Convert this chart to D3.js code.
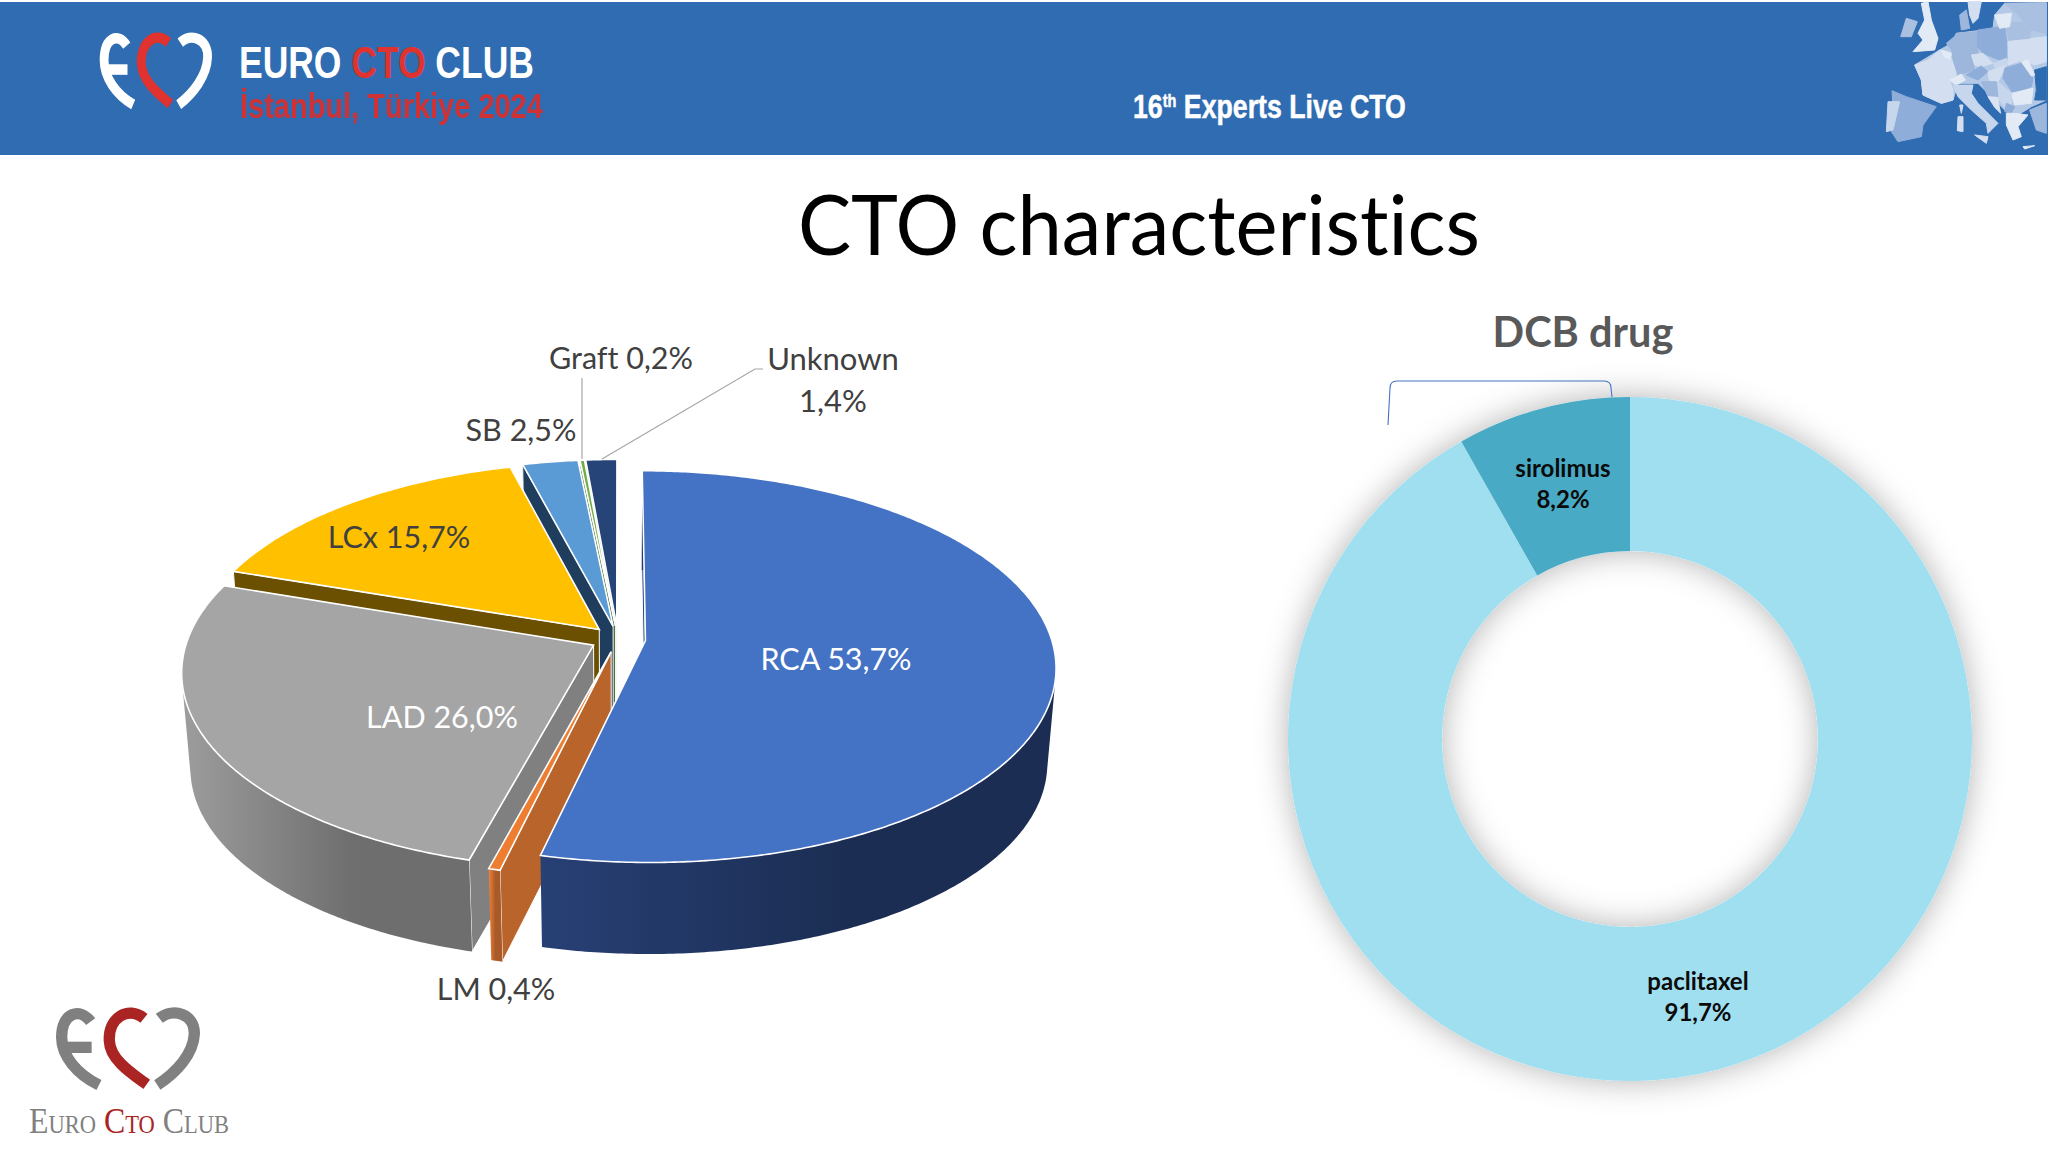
<!DOCTYPE html>
<html>
<head>
<meta charset="utf-8">
<script src="https://cdn.jsdelivr.net/npm/d3@7"></script>
<style>
    html, body { margin: 0; padding: 0; background: #fff; }
    svg { display: block; }
    text { font-family: Lato, sans-serif; font-variant-ligatures: none; }
</style>
</head>
<body>
<div id="chart"></div>
<script>
const vesselNames = ["RCA", "LM", "LAD", "LCx", "SB", "Graft", "Unknown"];
const vesselValues = [53.7, 0.4, 26.0, 15.7, 2.5, 0.2, 1.4];
const drugNames = ["paclitaxel", "sirolimus"];
const drugValues = [91.7, 8.2];

const topColors = ["#4472c4", "#ed7d31", "#a5a5a5", "#ffc000", "#5b9bd5", "#70ad47", "#264478"];
const sideColors = ["#2a4a86", "#b8642a", "#808080", "#6a5000", "#1f3d5c", "#43682b", "#1c335a"];
const rimColors = ["#1b2d52", "#a85a28", "#6e6e6e", "#5c4500", "#1f3d5c", "#43682b", "#1c335a"];

const width = 2048, height = 1152;

const svg = d3.select("#chart").append("svg")
    .attr("width", width)
    .attr("height", height);

const defs = svg.append("defs");

// soft shadow under the donut
defs.append("filter").attr("id", "soft")
    .attr("x", "-20%").attr("y", "-20%").attr("width", "140%").attr("height", "140%")
    .append("feDropShadow")
    .attr("dx", 0).attr("dy", 0).attr("stdDeviation", 16)
    .attr("flood-color", "#000").attr("flood-opacity", 0.3);

defs.append("filter").attr("id", "blurry")
    .append("feGaussianBlur").attr("stdDeviation", 0.6);

// header band
svg.append("rect").attr("x", 0).attr("y", 2).attr("width", width).attr("height", 153).attr("fill", "#2f6cb1");

function drawLogo(g, sideColor, midColor, lineWidth) {
    const line = (d, color) => g.append("path").attr("d", d)
        .attr("fill", "none").attr("stroke", color).attr("stroke-width", lineWidth);
    line("M272,128 C240,85 185,100 185,175 C185,230 230,285 297,318", sideColor);
    line("M190,205 L275,205", sideColor);
    line("M432,118 C385,80 325,115 328,185 C330,240 390,280 440,316", midColor);
    line("M478,118 C520,85 585,105 583,165 C580,225 530,280 472,318", sideColor);
}

drawLogo(svg.append("g").attr("transform", "translate(56,6) scale(0.26,0.31)"), "#fff", "#e0322f", 34);
drawLogo(svg.append("g").attr("transform", "translate(0,979) scale(0.3333)"), "#808080", "#ab2424", 34);

// squeeze a text horizontally so it takes the wanted width
function squeeze(text, x, y, len) {
    const natural = text.node().getComputedTextLength();
    text.attr("transform", `translate(${x},${y}) scale(${len / natural},1)`);
    return text;
}

function headerText(size, color) {
    return svg.append("text")
        .attr("font-size", size).attr("fill", color)
        .attr("font-weight", "bold")
        .style("font-family", "'Liberation Sans', sans-serif");
}

const clubHead = headerText(45, "#fff");
clubHead.append("tspan").text("EURO ");
clubHead.append("tspan").attr("fill", "#e0322f").text("CTO");
clubHead.append("tspan").text(" CLUB");
squeeze(clubHead, 239, 78, 295);

squeeze(headerText(36, "#cf3134").text("İstanbul, Türkiye 2024").attr("filter", "url(#blurry)"), 240, 118, 303);

const liveText = headerText(33, "#fff").attr("stroke", "#fff").attr("stroke-width", 0.5);
liveText.append("tspan").text("16");
liveText.append("tspan").attr("font-size", 18).attr("dy", -11).text("th");
liveText.append("tspan").attr("dy", 11).text(" Experts Live CTO");
squeeze(liveText, 1133, 118, 273);

// Europe map in the corner, rough outlines traced in a 3x crop
const mapShapes = [
    ["#b4c9e6", "110,195 185,150 220,130 235,100 300,92 345,85 350,45 380,10 505,8 505,300 460,320 420,345 385,335 350,300 300,250 240,250 225,300 190,310 135,285 130,240"],
    ["#2f6cb1", "470,210 505,200 505,300 470,300 475,270"],
    ["#8fadd9", "42,272 85,290 175,320 135,375 130,410 60,425 40,395 45,330"],
    ["#c6d6ec", "30,305 65,305 45,390 25,395"],
    ["#a9c0e0", "85,55 118,65 100,110 68,110"],
    ["#e2eaf5", "130,10 150,5 160,60 180,115 170,150 105,155 135,120 120,100 140,60"],
    ["#d3dff0", "110,195 150,180 185,150 225,180 235,225 215,240 225,270 225,300 190,310 135,285 130,240"],
    ["#e2eaf5", "190,150 222,160 215,178 198,170"],
    ["#9db7dc", "205,130 235,105 225,155"],
    ["#9db7dc", "235,100 300,95 300,175 280,165 290,210 240,225 225,180 220,140"],
    ["#8fadd9", "300,90 380,78 392,175 365,180 315,160 298,140"],
    ["#9db7dc", "245,45 265,30 275,85 250,90"],
    ["#d3dff0", "270,5 310,5 300,55 285,70 275,45"],
    ["#d3dff0", "280,165 315,160 345,190 310,200 290,195"],
    ["#8fadd9", "265,225 310,198 330,215 300,240"],
    ["#e2eaf5", "215,240 250,222 262,240 235,255"],
    ["#c6d6ec", "225,255 285,255 280,280 300,310 360,370 330,400 325,370 280,330 240,290"],
    ["#d3dff0", "290,405 330,410 325,430"],
    ["#d3dff0", "240,350 255,350 255,395 238,392"],
    ["#d3dff0", "245,315 255,315 250,340"],
    ["#c6d6ec", "345,190 385,175 390,192 355,210"],
    ["#d3dff0", "330,215 385,195 360,245 335,248"],
    ["#8fadd9", "380,205 430,190 465,235 460,260 405,280 375,235"],
    ["#d3dff0", "390,125 460,115 505,110 505,185 470,195 435,180 390,195"],
    ["#a9c0e0", "385,70 460,65 455,115 392,120"],
    ["#a9c0e0", "380,10 505,10 505,100 460,90 420,45"],
    ["#e2eaf5", "350,45 400,40 395,80 365,85"],
    ["#e2eaf5", "430,185 450,180 470,225 460,228"],
    ["#e2eaf5", "400,280 465,265 460,310 410,315"],
    ["#c6d6ec", "360,245 400,280 400,320 380,320 355,290"],
    ["#9db7dc", "310,245 355,245 360,290 330,290"],
    ["#d9e3f2", "330,290 358,292 368,340 350,322"],
    ["#8fadd9", "385,310 410,320 400,340 380,335"],
    ["#e2eaf5", "385,340 410,340 450,345 420,380 430,410 405,420 385,375"],
    ["#9db7dc", "455,330 505,310 505,400 475,390"],
    ["#e2eaf5", "435,440 470,437 440,447"]
];

svg.append("g").attr("filter", "url(#blurry)").selectAll("polygon")
    .data(mapShapes)
    .join("polygon")
    .attr("fill", d => d[0])
    .attr("stroke", d => d[0])
    .attr("stroke-width", 1)
    .attr("stroke-linejoin", "round")
    .attr("points", d => d[1].split(" ").map(p => {
        const [u, v] = p.split(",").map(Number);
        return (1878 + u / 3) + "," + (v / 3);
    }).join(" "));

// bottom left club name
const clubText = svg.append("text")
    .attr("font-size", 36)
    .attr("fill", "#808080")
    .style("font-family", "'Liberation Serif', serif")
    .style("font-variant", "small-caps");
clubText.append("tspan").text("Euro ");
clubText.append("tspan").attr("fill", "#ab2424").text("Cto");
clubText.append("tspan").text(" Club");
squeeze(clubText, 29, 1133, 198);

squeeze(svg.append("text").attr("font-size", 84).attr("fill", "#000").text("CTO characteristics"), 798, 255, 682);

// 3D pie: each slice lives on a unit disc which gets a perspective projection
const pieX = 618, pieY = 639, radiusX = 406, radiusY = 192;
const tilt = 0.133, explode = 0.068, depth = 96, bottomScale = 0.98;

function project(px, py, lower) {
    const w = 1 + tilt * py;
    const s = lower ? bottomScale : 1;
    return [
        pieX + radiusX * s * px / w,
        pieY + (lower ? depth : 0) - radiusY * s * py / w
    ];
}

const vesselPie = d3.pie().sort(null).startAngle(0).endAngle(2 * Math.PI);
const vesselArcs = vesselPie(vesselValues);
const polygon = d3.line().curve(d3.curveLinearClosed);

const pieG = svg.append("g");

vesselArcs.map((d, i) => i).reverse().forEach(i => {
    const arc = vesselArcs[i];
    const mid = (arc.startAngle + arc.endAngle) / 2;
    const ox = explode * Math.sin(mid), oy = explode * Math.cos(mid);

    const angles = d3.range(arc.startAngle, arc.endAngle, 0.01).concat([arc.endAngle]);
    const rim = lower => angles.map(a => project(ox + Math.sin(a), oy + Math.cos(a), lower));
    const apex = lower => project(ox, oy, lower);
    const spoke = (a, lower) => project(ox + Math.sin(a), oy + Math.cos(a), lower);
    const rimTop = rim(false), rimBottom = rim(true);

    const gradId = "rim-" + i;
    const extent = d3.extent(rimTop, p => p[0]);
    const grad = defs.append("linearGradient").attr("id", gradId)
        .attr("gradientUnits", "userSpaceOnUse")
        .attr("x1", extent[0]).attr("x2", extent[1]).attr("y1", 0).attr("y2", 0);
    grad.append("stop").attr("offset", "0%").attr("stop-color", d3.color(rimColors[i]).brighter(1));
    grad.append("stop").attr("offset", "60%").attr("stop-color", rimColors[i]);
    grad.append("stop").attr("offset", "100%").attr("stop-color", rimColors[i]);

    // only the radial face turned towards the viewer gets drawn
    const drawSides = () => [arc.startAngle, arc.endAngle].forEach((a, k) => {
        const face = [apex(false), spoke(a, false), spoke(a, true), apex(true)];
        const area = d3.polygonArea(face);
        if (k === 0 ? area <= 0 : area >= 0) return;
        pieG.append("path")
            .attr("d", polygon(face))
            .attr("fill", sideColors[i])
            .attr("stroke", "#fff").attr("stroke-width", 1);
    });

    // the curved wall as quads in one path, all wound the same way so none cancels
    const drawRim = () => pieG.append("path")
        .attr("d", rimTop.slice(1)
            .map((p, k) => {
                const quad = [rimTop[k], p, rimBottom[k + 1], rimBottom[k]];
                return polygon(d3.polygonArea(quad) < 0 ? quad.reverse() : quad);
            })
            .join(""))
        .attr("fill", `url(#${gradId})`);

    // back slices show their radial faces in front of their curved wall
    if (Math.cos(mid) > 0) {
        drawRim();
        drawSides();
    } else {
        drawSides();
        drawRim();
    }

    pieG.append("path")
        .attr("d", polygon([apex(false)].concat(rimTop)))
        .attr("fill", topColors[i])
        .attr("stroke", "#fff").attr("stroke-width", 1.6);
});

// leader lines
const leader = d3.line();
[
    [[582, 378], [582, 459]],
    [[763, 369], [755, 369], [602, 459]]
].forEach(pts => {
    svg.append("path").attr("d", leader(pts))
        .attr("fill", "none").attr("stroke", "#a6a6a6").attr("stroke-width", 1.2);
});

const pct = v => v.toFixed(1).replace(".", ",") + "%";

function vesselLabel(i, x, y, color) {
    svg.append("text").attr("x", x).attr("y", y)
        .attr("text-anchor", "middle")
        .attr("font-size", 30.5).attr("fill", color)
        .text(vesselNames[i] + " " + pct(vesselValues[i]));
}

vesselLabel(0, 836, 670, "#fff");
vesselLabel(1, 496, 1000, "#404040");
vesselLabel(2, 442, 728, "#fff");
vesselLabel(3, 399, 548, "#404040");
vesselLabel(4, 521, 441, "#404040");
vesselLabel(5, 621, 369, "#404040");

svg.append("text").attr("x", 833).attr("y", 370).attr("text-anchor", "middle")
    .attr("font-size", 31).attr("fill", "#404040").text(vesselNames[6]);
svg.append("text").attr("x", 833).attr("y", 412).attr("text-anchor", "middle")
    .attr("font-size", 31).attr("fill", "#404040").text(pct(vesselValues[6]));

// donut
const donutColor = d3.scaleOrdinal(drugNames, ["#a0dff0", "#4aaac6"]);
const donutPie = d3.pie().sort(null);
const donutArc = d3.arc().innerRadius(188).outerRadius(342);

const donutG = svg.append("g")
    .attr("transform", "translate(1630,739)")
    .attr("filter", "url(#soft)");

donutG.selectAll("path")
    .data(donutPie(drugValues))
    .join("path")
    .attr("d", donutArc)
    .attr("fill", (d, i) => donutColor(drugNames[i]));

svg.append("path")
    .attr("d", "M1388,425 L1390,388 Q1390,381 1397,381 L1604,381 Q1611,381 1611,388 L1612,397")
    .attr("fill", "none").attr("stroke", "#4472c4").attr("stroke-width", 1.1);

svg.append("text").attr("x", 1583).attr("y", 347).attr("text-anchor", "middle")
    .attr("font-size", 41.5).attr("font-weight", "bold").attr("fill", "#595959")
    .text("DCB drug");

function drugLabel(i, x, y) {
    const g = svg.append("g").attr("text-anchor", "middle")
        .attr("font-size", 24).attr("font-weight", "bold").attr("fill", "#0b0b0b");
    g.append("text").attr("x", x).attr("y", y).text(drugNames[i]);
    g.append("text").attr("x", x).attr("y", y + 31).text(pct(drugValues[i]));
}

drugLabel(0, 1698, 990);
drugLabel(1, 1563, 477);
</script>
</body>
</html>
